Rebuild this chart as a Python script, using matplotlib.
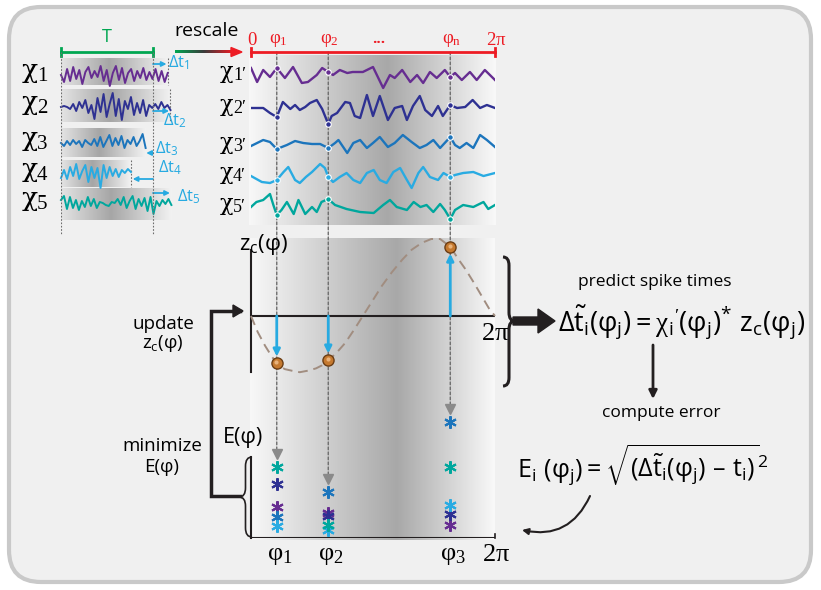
import numpy as np
import matplotlib.pyplot as plt
from matplotlib.patches import FancyBboxPatch, PathPatch, FancyArrow
from matplotlib.path import Path
from matplotlib.colors import LinearSegmentedColormap
from matplotlib.transforms import blended_transform_factory

plt.rcParams['mathtext.fontset'] = 'custom'
plt.rcParams['mathtext.rm'] = 'Liberation Serif'
plt.rcParams['mathtext.sf'] = 'Open Sans'
plt.rcParams['mathtext.it'] = 'Open Sans'
plt.rcParams['mathtext.default'] = 'sf'
plt.rcParams['font.family'] = ['Open Sans', 'DejaVu Sans']

W, H = 821, 590
SERIF = ['Liberation Serif', 'DejaVu Serif']
CHI_FONT = ['DejaVu Serif']

# ---------------- data ----------------
signal_colors = ['#662d91', '#2e3192', '#1c75bc', '#29abe2', '#00a79d']
signal_index = ['1', '2', '3', '4', '5']

# raw signals: duration 1 = T, shift delta_t (in units of T)
delta_t = [0.16, 0.19, -0.08, -0.24, 0.20]
raw_1 = [0, -7, 6, -6, 8, -4, 5, -9, 3, 8, -3, 4, -2, 9, -6, 5, -11, 2, 9, -5, 7, -8,
         2, 6, -6, 4, -3, 7, -5, 3, -4, 6, -6, 4, -7, 2]
raw_2 = [0, 1, 0, -2, 3, -4, 5, -1, 7, -6, 2, -12, 9, -5, 13, -10, 3, 14, -9, 8, -13,
         6, -2, 10, -8, 4, -6, 7, -9, 2, -1, 3, -2, 5, -1, 2, -3]
raw_3 = [0, -3, 2, -2, 3, -1, 2, -4, 3, 0, -2, 4, -3, 6, -4, 2, 8, -3, 5, -2, 7, -5,
         3, -1, 6, -3, 2, 9, -5]
raw_4 = [-4, 4, -5, 7, -2, 10, -5, 3, 9, -8, 7, -4, 6, -14, 9, -4, 7, -2, 5, -3, 4, 1, 5, 2]
raw_5 = [3, 7, -6, 6, -5, 3, -7, 2, -4, 6, -3, 4, -5, 1, 0, -2, -3, 1, 0, 4, -2, 6, -5,
         2, 7, -6, 4, -3, 5, -8, 6, -11, 2, -3, 3, -1, 4, -2]
raw_signals = [raw_1, raw_2, raw_3, raw_4, raw_5]

# rescaled signals, phase in degrees
res_1_phase = [0, 9, 18, 28, 38, 50, 62, 75, 84, 97, 105, 114, 121, 131, 142, 150, 165, 180,
               195, 205, 212, 223, 235, 245, 254, 264, 274, 286, 294, 301, 311, 323, 333, 345, 360]
res_1 = [7, -7, 5, -2, 7, -3, 8, -8, -7, 0, 7, 3, 0, 5, 2, 3, 3, 8, -13, 0, -3, 5, -7, 0,
         -8, 3, -3, 5, -2, 2, -5, 3, -5, 5, -5]
res_2_phase = [0, 18, 28, 38, 47, 58, 65, 72, 80, 87, 97, 105, 114, 119, 127, 139, 146, 153,
               161, 171, 180, 190, 202, 212, 223, 230, 239, 249, 257, 267, 276, 283, 294, 304,
               316, 327, 338, 348, 360]
res_2 = [0, 0, -5, -9, 6, -1, 3, -2, 1, 5, 8, -1, -16, -8, -5, 6, 5, -8, -10, 13, -8, 12,
         -12, 0, 2, -12, 2, 12, -2, -8, 2, -8, 3, 0, 1, 8, 0, 3, 0]
res_3_phase = [0, 9, 18, 28, 38, 53, 65, 77, 90, 102, 114, 124, 129, 142, 151, 161, 171, 180,
               190, 202, 212, 224, 237, 249, 259, 269, 279, 294, 301, 308, 318, 328, 338, 348, 360]
res_3 = [0, 3, 6, 4, -3, 1, 5, 3, 2, 2, -2, 3, 6, -7, 3, 6, -2, 3, 9, -1, 3, 11, 4, -2, 1,
         6, -2, 9, 1, -2, 3, -2, 11, 6, -1]
res_4_phase = [0, 8, 16, 28, 38, 48, 55, 65, 72, 81, 90, 102, 109, 114, 121, 131, 141, 151,
               161, 171, 181, 190, 200, 210, 220, 230, 237, 247, 254, 264, 276, 284, 294, 301,
               313, 328, 343, 360]
res_4 = [0, -3, -6, -7, -4, 4, 9, -4, -7, -1, 4, 12, 8, -1, -6, -1, 3, -4, -7, 3, 6, -4, -7,
         4, 8, -4, -12, 3, 9, -1, -4, 3, -1, 1, 3, 4, 0, 3]
res_5_phase = [0, 8, 18, 28, 33, 38, 45, 53, 63, 70, 80, 90, 97, 104, 114, 124, 141, 161,
               181, 195, 205, 215, 230, 240, 250, 259, 269, 279, 286, 294, 301, 313, 328, 343,
               350, 360]
res_5 = [0, 5, 7, 13, 2, -8, -3, 5, -7, 7, -7, 0, -5, 5, 8, 2, -2, -5, -6, 2, 7, 0, -3, 5,
         0, 2, -5, 3, -3, -12, -3, 2, 0, 5, -2, 2]
res_phase = [res_1_phase, res_2_phase, res_3_phase, res_4_phase, res_5_phase]
res_values = [res_1, res_2, res_3, res_4, res_5]

phi_marks = [38, 114, 294]          # phi_1, phi_2, phi_n (deg)

# coupling function z_c(phi)
zc_phase = [0, 10, 21, 31, 40, 50, 60, 72, 84, 96, 105, 115, 127, 139, 152, 165, 178, 193,
            208, 223, 237, 252, 266, 279, 294, 305, 317, 329, 341, 351, 360]
zc_value = [0, -0.21, -0.39, -0.53, -0.64, -0.69, -0.71, -0.73, -0.71, -0.68, -0.64, -0.57,
            -0.47, -0.35, -0.18, 0, 0.18, 0.39, 0.57, 0.73, 0.86, 0.95, 1.0, 1.0, 0.9, 0.75,
            0.6, 0.43, 0.25, 0.1, 0]

# error of each signal (1..5) at phi_1, phi_2, phi_3
err_phi1 = [0.31, 0.54, 0.21, 0.12, 0.71]
err_phi2 = [0.25, 0.22, 0.46, 0.08, 0.13]
err_phi3 = [0.13, 0.24, 1.16, 0.33, 0.71]
errors = [err_phi1, err_phi2, err_phi3]

# ---------------- layout ----------------
fig = plt.figure(figsize=(W / 100, H / 100), dpi=100)
fig.patch.set_facecolor('white')
ax0 = fig.add_axes([0, 0, 1, 1])
ax0.set_axis_off()


def panel(x0, x1, y0, y1):
    ax = fig.add_axes([x0 / W, 1 - y1 / H, (x1 - x0) / W, (y1 - y0) / H])
    ax.set_axis_off()
    return ax


def gradient(ax, x0, x1, y0, y1, stops, zorder=0):
    cmap = LinearSegmentedColormap.from_list('g', stops)
    ax.imshow(np.linspace(0, 1, 256)[None, :], cmap=cmap, extent=(x0, x1, y1, y0),
              aspect='auto', interpolation='bilinear', zorder=zorder)


def brace(ax, x, y0, y1, w, ym, lw, color='#231f20'):
    h = w / 2
    r = abs(w) * 0.7
    verts = [(x, y0), (x + h, y0), (x + h, y0 + r), (x + h, ym - r), (x + h, ym), (x + w, ym),
             (x + h, ym), (x + h, ym + r), (x + h, y1 - r), (x + h, y1), (x, y1)]
    codes = [Path.MOVETO, Path.CURVE3, Path.CURVE3, Path.LINETO, Path.CURVE3, Path.CURVE3,
             Path.CURVE3, Path.CURVE3, Path.LINETO, Path.CURVE3, Path.CURVE3]
    ax.add_patch(PathPatch(Path(verts, codes), fill=False, lw=lw, color=color, zorder=5))


ax_raw = panel(61, 181, 40, 236)
ax_raw.set_xlim(0, 120 / 92)
ax_raw.set_ylim(236, 40)
ax_res = panel(251, 495, 40, 226)
ax_res.set_xlim(0, 360)
ax_res.set_ylim(226, 40)
ax_zc = panel(251, 495, 238, 385)
ax_zc.set_xlim(0, 360)
ax_zc.set_ylim(-69 / 77, 78 / 77)
ax_E = panel(251, 495, 400, 538)
ax_E.set_xlim(0, 360)
ax_E.set_ylim(0, 1.38)

# background card + grey panels
ax0.add_patch(FancyBboxPatch((9, 7), 802, 575, boxstyle='round,pad=0,rounding_size=32',
                             fc='#f0f0f0', ec='#c9c9c9', lw=3, zorder=0))
gradient(ax0, 249, 496, 55, 225, [(0, '#f8f8f8'), (0.56, '#a8a8a8'), (1, '#f9f9f9')])
gradient(ax0, 250, 495, 238, 540, [(0, '#f8f8f8'), (0.6, '#a8a8a8'), (1, '#f9f9f9')])

red = '#ed1c24'
green = '#00a651'
cyan = '#27aae1'
grey_dot = '#6d6d6d'
ink = '#231f20'

# ---------- raw signals ----------
raw_base = [75, 107, 143, 174, 203]
raw_box = [(58, 85), (89, 122), (128, 157), (160, 187), (188, 220)]
for i, sig in enumerate(raw_signals):
    end = 1 + delta_t[i]
    gradient(ax_raw, 0, end, raw_box[i][0], raw_box[i][1],
             [(0, '#e4e4e4'), (0.45, '#a6a6a6'), (1, '#f2f2f2')])
    t = np.linspace(0, end, len(sig))
    ax_raw.plot(t, raw_base[i] - np.array(sig), color=signal_colors[i], lw=1.4,
                clip_on=False, zorder=3)
    if i in (0, 1, 3):
        ax_raw.plot([end, end], raw_box[i], ls=(0, (1.5, 1.5)), color=grey_dot, lw=0.8)
    # delta t arrows
    ay = [64, 111, 153, 179, 193][i]
    ax_raw.annotate('', xy=(1 + delta_t[i] * 0.92, ay), xytext=(1, ay),
                    arrowprops=dict(arrowstyle='-|>', color=cyan, lw=1.3, shrinkA=0,
                                    shrinkB=0, mutation_scale=7), annotation_clip=False)
for tt in (0, 1):
    ax_raw.plot([tt, tt], [52, 235], ls=(0, (1.5, 1.5)), color=grey_dot, lw=0.8, zorder=4)
ax_raw.plot([0, 1], [52, 52], color=green, lw=2, clip_on=False)
for tt in (0, 1):
    ax_raw.plot([tt, tt], [48, 56], color=green, lw=2, clip_on=False)
ax_raw.text(0.5, 46, 'T', color=green, fontsize=13, ha='center', va='bottom')

dt_label_pos = [(168, 63), (163, 121), (155, 149), (158, 168), (177, 197)]
for i, (x, y) in enumerate(dt_label_pos):
    ax_raw.text(x, y, r'$\Delta t_{%d}$' % (i + 1), color=cyan, fontsize=12, ha='left',
                va='center', transform=ax0.transData, zorder=8)

for i, k in enumerate(signal_index):
    ax0.text(22, raw_base[i] + 3, 'χ', fontsize=19, family=CHI_FONT, ha='left',
             va='baseline')
    ax0.text(37, raw_base[i] + 6, k, fontsize=15, family=SERIF, ha='left', va='baseline')

# rescale arrow (green -> red)
gradient(ax0, 175, 233, 50.6, 53.4, [green, '#3b3b3b', red], zorder=2)
ax0.add_patch(plt.Polygon([(231, 47.5), (242, 52), (231, 56.5)], color=red, zorder=3))
ax0.text(207, 40, 'rescale', fontsize=14, ha='center', va='bottom')

# ---------- rescaled signals ----------
res_base = [75, 108, 146, 176, 207]
for i in range(5):
    ph = np.array(res_phase[i])
    y = res_base[i] - np.array(res_values[i])
    ax_res.plot(ph, y, color=signal_colors[i], lw=1.7, solid_joinstyle='round', zorder=3)
    ym = np.interp(phi_marks, ph, y)
    ax_res.plot(phi_marks, ym, 'o', ms=4, mfc=signal_colors[i], mec='white', mew=0.8,
                zorder=4)
    ax0.text(220, res_base[i] + 3, 'χ', fontsize=16, family=CHI_FONT, ha='left',
             va='baseline')
    ax0.text(233, res_base[i] + 5, signal_index[i] + '′', fontsize=13, family=SERIF,
             ha='left', va='baseline')

ax_res.plot([0, 360], [52, 52], color=red, lw=2, clip_on=False)
for p in (0, 360):
    ax_res.plot([p, p], [48, 56], color=red, lw=2, clip_on=False)
top_labels = ['0', r'$\mathrm{\varphi_1}$', r'$\mathrm{\varphi_2}$', r'$\mathrm{\varphi_n}$',
              r'$\mathrm{2\pi}$']
top_pos = [2, phi_marks[0] + 2, phi_marks[1] + 2, phi_marks[2] + 2, 362]
for lab, p in zip(top_labels, top_pos):
    ax_res.text(p, 49, lab, color=red, fontsize=13.5, ha='center', va='bottom',
                family=SERIF)
ax_res.text(189, 46, '...', color=red, fontsize=11, ha='center', va='bottom',
            fontweight='bold')

# phi guide lines through all panels
blend = blended_transform_factory(ax_E.transData, ax0.transData)
tips = [max(e) + 0.13 for e in errors]
for p, tip in zip(phi_marks, tips):
    ax0.annotate('', xy=(p, tip), xycoords=ax_E.transData, xytext=(p, 52), textcoords=blend,
                 arrowprops=dict(arrowstyle='-', color=grey_dot, lw=1, ls=(0, (2, 1.6)),
                                 shrinkA=0, shrinkB=0))
    ax_E.plot(p, tip, marker='v', ms=7, color='#8a8a8a', mec='#8a8a8a', clip_on=False)

# ---------- z_c panel ----------
ax_zc.axhline(0, color=ink, lw=1.5)
ax_zc.plot([0, 0], [0.86, -0.73], color=ink, lw=1.5, clip_on=False)
ax_zc.plot(zc_phase, zc_value, color='#a18d80', lw=1.4, ls=(0, (5, 3)), clip_on=False)
zc_dots = np.interp(phi_marks, zc_phase, zc_value)
for p, z in zip(phi_marks, zc_dots):
    ax_zc.annotate('', xy=(p, z), xytext=(p, 0),
                   arrowprops=dict(arrowstyle='-|>', color=cyan, lw=2, shrinkA=0, shrinkB=5,
                                   mutation_scale=10))
ax_zc.plot(phi_marks, zc_dots, 'o', ms=8, mfc='#c5792f', mec='#6b3d14', mew=1, zorder=5,
           clip_on=False)
ax_zc.plot(np.array(phi_marks) - 1, zc_dots + 0.015, 'o', ms=3, mfc='#e9b27a', mec='none',
           zorder=6, clip_on=False)
ax_zc.text(18, 0.93, r'$z_c(\varphi)$', fontsize=16, ha='center', va='center')
ax_zc.text(360, -0.06, r'$\mathrm{2\pi}$', fontsize=19, ha='center', va='top')

# ---------- error panel ----------
ax_E.axhline(0, color=ink, lw=1.5)
ax_E.plot([0, 0], [0, 0.81], color=ink, lw=1.5, clip_on=False)
ax_E.plot([360, 360], [0, 0.04], color=ink, lw=1.2, clip_on=False)
for p, errs in zip(phi_marks, errors):
    for i, e in enumerate(errs):
        ax_E.plot(p, e, marker=(6, 2, 0), ms=9, mew=1.5, color=signal_colors[i],
                  clip_on=False, zorder=4)
bottom_labels = [r'$\mathrm{\varphi_1}$', r'$\mathrm{\varphi_2}$', r'$\mathrm{\varphi_3}$']
for p, lab in zip(phi_marks, bottom_labels):
    ax_E.text(p + 4, -0.04, lab, fontsize=19, ha='center', va='top')
ax_E.text(362, -0.04, r'$\mathrm{2\pi}$', fontsize=19, ha='center', va='top')
ax0.text(243, 437, 'E(φ)', fontsize=15.5, ha='center', va='center')

# ---------- left loop ----------
ax0.text(163, 324, 'update', fontsize=13.5, ha='center', va='center')
ax0.text(163, 344, r'$z_c(\varphi)$', fontsize=13.5, ha='center', va='center')
ax0.text(162, 446, 'minimize', fontsize=13.5, ha='center', va='center')
ax0.text(162, 467, 'E(φ)', fontsize=13.5, ha='center', va='center')
ax0.plot([240, 211, 211, 240], [311, 311, 496, 496], color=ink, lw=2.5,
         solid_joinstyle='miter')
ax0.add_patch(plt.Polygon([(233, 305), (243, 311), (233, 317)], color=ink))
brace(ax0, 252, 457, 537, -13, 497, 1.2)

# ---------- right side ----------
brace(ax0, 503, 257, 386, 12, 321, 2.2)
ax0.add_patch(FancyArrow(513, 321, 42, 0, width=8, head_width=24, head_length=17,
                         length_includes_head=True, color=ink))
ax0.text(655, 282, 'predict spike times', fontsize=12.5, ha='center', va='center')
ax0.text(682, 322,
         r"$\Delta\tilde{t}_i(\varphi_j) = \mathrm{\chi}_i\mathrm{'}(\varphi_j)^{*}\ z_c(\varphi_j)$",
         fontsize=19.5, ha='center', va='center')
ax0.annotate('', xy=(653, 399), xytext=(653, 345),
             arrowprops=dict(arrowstyle='-|>', color=ink, lw=2, shrinkA=0, shrinkB=0,
                             mutation_scale=12))
ax0.text(661, 413, 'compute error', fontsize=12.5, ha='center', va='center')
dash = '\u2013'
ax0.text(643, 465,
         r'$E_i\ (\varphi_j)= \sqrt{(\Delta\tilde{t}_i(\varphi_j)\ ' + dash + r'\ t_i)}^2$',
         fontsize=18, ha='center', va='center')
ax0.annotate('', xy=(522, 530), xytext=(590, 496),
             arrowprops=dict(arrowstyle='-|>', color=ink, lw=1.5, shrinkA=0, shrinkB=0,
                             mutation_scale=9, connectionstyle='arc3,rad=-0.4'))

ax0.set_xlim(0, W)
ax0.set_ylim(H, 0)
fig.savefig('out.png', dpi=100, facecolor='white')
